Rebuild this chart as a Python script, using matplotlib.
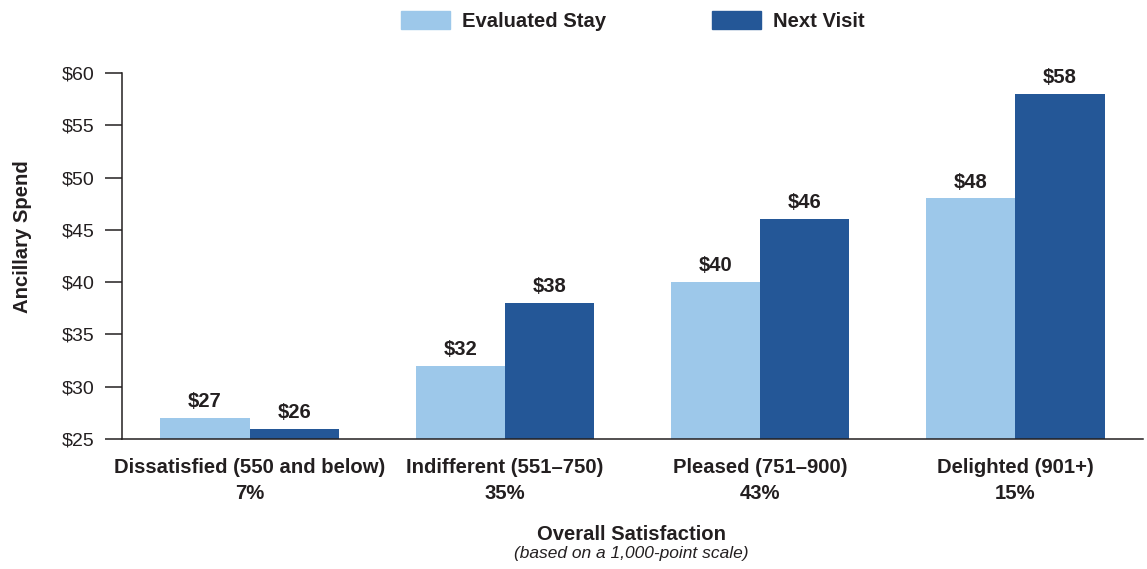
import numpy as np
import matplotlib.pyplot as plt
from matplotlib.patches import Patch

plt.rcParams["font.family"] = ["Liberation Sans", "DejaVu Sans"]

# ── data ──────────────────────────────────────────────────────────────────────
categories = [
    "Dissatisfied (550 and below)",
    "Indifferent (551\u2013750)",
    "Pleased (751\u2013900)",
    "Delighted (901+)",
]
shares = ["7%", "35%", "43%", "15%"]
evaluated_stay = [27, 32, 40, 48]
next_visit = [26, 38, 46, 58]
yticks = [25, 30, 35, 40, 45, 50, 55, 60]

# ── style ─────────────────────────────────────────────────────────────────────
LIGHT = "#9dc8ea"
DARK = "#245797"
TEXT = "#231f20"
AXIS = "#231f20"
BOLD = 14.6

fig = plt.figure(figsize=(11.47, 5.69), dpi=100)
ax = fig.add_axes([0.1064, 0.2285, 0.8901, 0.6432])

x = np.arange(len(categories))
w = 0.35
b1 = ax.bar(x - w / 2, np.array(evaluated_stay) - 25, w, bottom=25, color=LIGHT)
b2 = ax.bar(x + w / 2, np.array(next_visit) - 25, w, bottom=25, color=DARK)

# value labels above each bar
for bars, vals in ((b1, evaluated_stay), (b2, next_visit)):
    for rect, v in zip(bars, vals):
        ax.annotate(f"${v}", (rect.get_x() + rect.get_width() / 2, v),
                    xytext=(0, 5), textcoords="offset points",
                    ha="center", va="bottom", fontsize=BOLD, fontweight="bold",
                    color=TEXT)

ax.set_xlim(-0.5, 3.5)
ax.set_ylim(25, 60)
ax.set_yticks(yticks)
ax.set_yticklabels([f"${t}" for t in yticks], fontsize=14, color=TEXT)
ax.set_xticks(x)
ax.set_xticklabels([f"{c}\n{s}" for c, s in zip(categories, shares)],
                   fontsize=BOLD, fontweight="bold", color=TEXT, linespacing=1.45)
ax.tick_params(axis="x", length=0, pad=14)
ax.tick_params(axis="y", length=12, width=1.1, color=AXIS, pad=8)

for side in ("top", "right"):
    ax.spines[side].set_visible(False)
for side in ("left", "bottom"):
    ax.spines[side].set_color(AXIS)
    ax.spines[side].set_linewidth(1.1)

fig.text(0.0192, 0.5835, "Ancillary Spend", rotation=90, ha="center",
         va="center", fontsize=BOLD, fontweight="bold", color=TEXT)

fig.text(0.5505, 0.061, "Overall Satisfaction", ha="center", va="center",
         fontsize=BOLD, fontweight="bold", color=TEXT)
fig.text(0.5505, 0.027, "(based on a 1,000-point scale)", ha="center",
         va="center", fontsize=12.5, style="italic", color=TEXT)

# ── legend ────────────────────────────────────────────────────────────────────
handles = [Patch(color=LIGHT, label="Evaluated Stay"),
           Patch(color=DARK, label="Next Visit")]
fig.legend(handles=handles, loc="center", bbox_to_anchor=(0.5515, 0.963),
           ncol=2, frameon=False,
           prop={"weight": "bold", "size": BOLD},
           handlelength=2.42, handleheight=0.99, handletextpad=0.6,
           columnspacing=5.2, labelcolor=TEXT)

fig.savefig("out.png", dpi=100, facecolor="white")
